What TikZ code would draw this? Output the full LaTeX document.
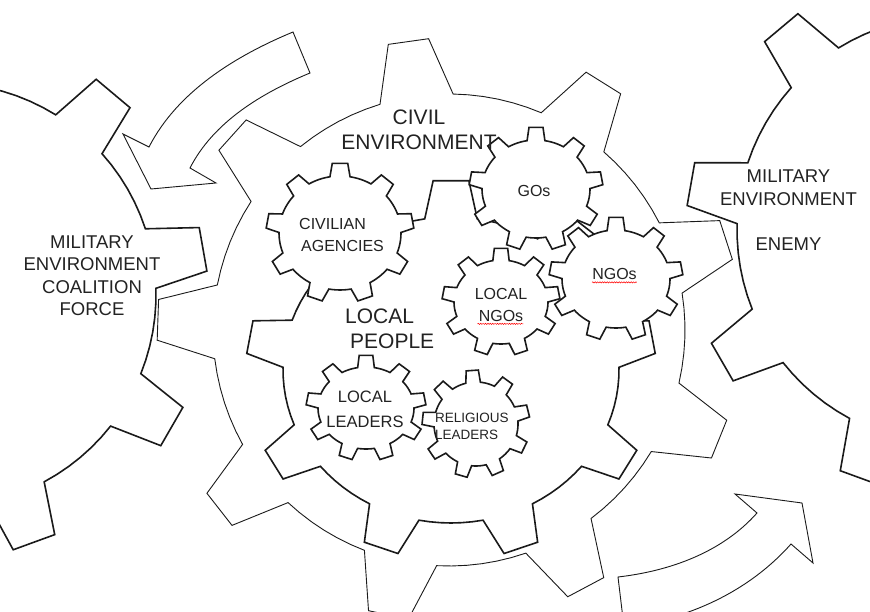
\documentclass[tikz,border=0pt]{standalone}
\usepackage{fontspec}
\setmainfont{Liberation Sans}
\usetikzlibrary{decorations.pathmorphing}
\definecolor{ink}{HTML}{1A1A1A}
\definecolor{txt}{HTML}{222222}
% gear: cx, cy, tip rx, tip ry, root rx, root ry, first tooth angle, tip half-angle, root half-angle
\newcommand{\gearshape}[9]{%
  \path[shift={(#1,#2)},gearcur] (#7-#9:#5 and #6)
  \foreach \k in {0,...,8}{
    -- ({#7+40*\k-#8}:#3 and #4) -- ({#7+40*\k+#8}:#3 and #4)
    \foreach \j in {0,...,6}{ -- ({#7+40*\k+#9+\j*(40-2*#9)/6}:#5 and #6) }
  } -- cycle;}
\begin{document}
\begin{tikzpicture}[x=1pt,y=-1pt,
  bigline/.style={draw=ink, line width=1.6pt, line join=miter},
  thinline/.style={draw=ink, line width=0.9pt, line join=miter},
  smallgear/.style={draw=ink, fill=white, line width=1.6pt, line join=miter},
  lbl/.style={text=txt, inner sep=0pt, align=center},
  f21/.style={font=\fontsize{21}{25}\selectfont},
  f185/.style={font=\fontsize{18.5}{22.5}\selectfont},
  f16/.style={font=\fontsize{16}{22}\selectfont},
  f165/.style={font=\fontsize{16.5}{25}\selectfont},
  f135/.style={font=\fontsize{13.5}{17}\selectfont},
  squig/.style={draw=red, line width=0.5pt, decorate,
    decoration={snake, amplitude=0.6pt, segment length=2.4pt}}]

\useasboundingbox (0,0) rectangle (870,612);
\clip (0,0) rectangle (870,612);

% outer civil-environment gear (thin)
\begin{scope}[gearcur/.style={thinline}]
  \gearshape{449}{330}{292}{292}{236}{236}{-98}{4}{9}
\end{scope}

% side gears (military environments)
\begin{scope}[gearcur/.style={bigline}]
  \gearshape{-56}{295}{264}{264}{212}{212}{-10}{4.8}{8.2}
  \gearshape{951}{230}{265}{265}{214}{214}{-130}{4.7}{8.3}
\end{scope}

% curved arrows
\draw[thinline] (293,32) .. controls (235.4,55.9) and (177.4,91.6) .. (149,147)
  -- (123,134) -- (151,189) -- (216,183) -- (190,168)
  .. controls (213.7,121.7) and (262,92.9) .. (310,73) -- cycle;
\draw[thinline] (618,577) .. controls (670,571) and (722,552.4) .. (757,513)
  -- (735,494) -- (802,503) -- (813,563) -- (791,544)
  .. controls (748.5,591.9) and (687.6,619.6) .. (624,627) -- cycle;

% inner local-people gear
\begin{scope}[gearcur/.style={bigline}]
  \gearshape{451}{370}{205}{190}{168}{153}{-90}{5}{9}
\end{scope}

% small gears
\begin{scope}[gearcur/.style={smallgear}]
  \gearshape{340}{233}{74}{70}{61}{57}{-90}{6}{9.5}
  \gearshape{536}{189}{67}{62}{54}{49}{-90}{6}{9.5}
  \gearshape{616}{279}{67}{62}{54}{49}{-90}{6}{9.5}
  \gearshape{501}{302}{59}{54}{47}{42}{-90}{6.5}{10}
  \gearshape{366}{408}{60}{53}{48}{41}{-90}{6.5}{10}
  \gearshape{476}{424}{54}{54}{42}{42}{-94}{6.5}{10}
\end{scope}

% labels
\node[lbl,f21] (civil) at (419,130) {CIVIL\\ENVIRONMENT};
\node[lbl,f185] (milleft) at (92,275.5) {MILITARY\\ENVIRONMENT\\COALITION\\FORCE};
\node[lbl,f185] (milright) at (788.5,210) {MILITARY\\ENVIRONMENT\\[22.3pt]ENEMY};
\node[lbl,f21,align=left,anchor=west] (people) at (345,329) {LOCAL\\\hspace*{5pt}PEOPLE};
\node[lbl,f16,align=left,anchor=west] (civag) at (299,234.5) {CIVILIAN\\\hspace*{2pt}AGENCIES};
\node[lbl,f16] (gos) at (534,191) {GOs};
\node[lbl,f16] (ngos) at (614.5,274) {NGOs};
\node[lbl,f16] (lngos) at (501,304.5) {LOCAL\\NGOs};
\node[lbl,f165] (lleaders) at (365,409) {LOCAL\\LEADERS};
\node[lbl,f135,align=left,anchor=west] (rleaders) at (435,426) {RELIGIOUS\\LEADERS};

% spell-check underlines
\draw[squig] ([yshift=-2.5pt]ngos.south west) -- ([yshift=-2.5pt]ngos.south east);
\draw[squig] ([xshift=3pt,yshift=-2.5pt]lngos.south west) -- ([xshift=-4pt,yshift=-2.5pt]lngos.south east);
\end{tikzpicture}
\end{document}
